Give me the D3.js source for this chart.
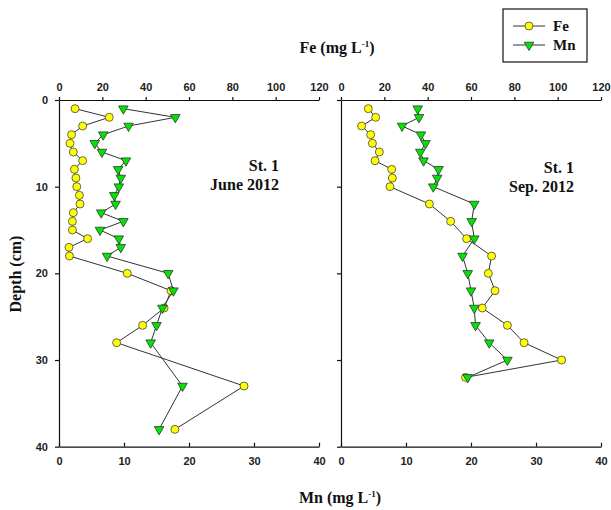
<!DOCTYPE html>
<html>
<head>
<meta charset="utf-8">
<script src="https://cdn.jsdelivr.net/npm/d3@7/dist/d3.min.js"></script>
<style>
  html, body { margin: 0; padding: 0; background: #fff; }
  svg { display: block; }
  .tick text { font-family: "Liberation Sans", Arial, sans-serif; font-weight: bold; font-size: 11px; fill: #222; }
  .domain, .tick line { stroke: #111; stroke-width: 1.2; }
  .title { font-family: "Liberation Serif", "Times New Roman", serif; font-weight: bold; fill: #111; }
</style>
</head>
<body>
<svg id="chart" width="611" height="510"></svg>
<script>
// Pore-water Fe and Mn profiles, Station 1
const depthJun = [1, 2, 3, 4, 5, 6, 7, 8, 9, 10, 11, 12, 13, 14, 15, 16, 17, 18, 20, 22, 24, 26, 28, 33, 38];
const feJun = [7.4, 23.2, 10.9, 5.8, 5.1, 6.6, 10.9, 7.1, 7.8, 8.2, 9.4, 9.7, 6.6, 6.2, 6.2, 13.2, 4.6, 4.8, 31.5, 51.7, 48.5, 38.6, 26.6, 85.4, 53.5];
const mnJun = [9.9, 17.9, 10.7, 6.8, 5.5, 6.6, 10.3, 9.1, 9.5, 9.2, 8.5, 8.7, 6.5, 9.9, 6.3, 9.2, 9.5, 7.4, 16.8, 17.6, 15.9, 15.0, 14.1, 19.0, 15.4];

const depthSep = [1, 2, 3, 4, 5, 6, 7, 8, 9, 10, 12, 14, 16, 18, 20, 22, 24, 26, 28, 30, 32];
const feSep = [12.6, 16.0, 9.5, 13.7, 14.5, 17.7, 15.7, 23.4, 23.7, 22.6, 40.8, 50.6, 58.0, 69.5, 68.0, 71.1, 65.2, 76.8, 84.5, 101.8, 57.5];
const mnSep = [11.8, 12.0, 9.4, 12.3, 13.0, 12.2, 12.7, 15.0, 14.8, 14.2, 20.5, 20.1, 20.5, 18.7, 19.5, 20.0, 20.5, 20.7, 22.8, 25.6, 19.5];

const feTicks = [0, 20, 40, 60, 80, 100, 120];
const mnTicks = [0, 10, 20, 30, 40];
const depthTicks = [0, 10, 20, 30, 40];

const panels = [
  { depth: depthJun, fe: feJun, mn: mnJun, station: "St. 1", date: "June 2012", x0: 59, x1: 319, noteX: 279, noteY: 171, labels: true },
  { depth: depthSep, fe: feSep, mn: mnSep, station: "St. 1", date: "Sep. 2012", x0: 341, x1: 601, noteX: 574, noteY: 173, labels: false }
];

const FE_COLOR = "#ffff00";
const MN_COLOR = "#00e600";
const LINE_COLOR = "#333";

const svg = d3.select("#chart");
const y = d3.scaleLinear().domain([0, 40]).range([100, 446.7]);

const triangle = d3.symbol().type(d3.symbolTriangle).size(40);

panels.forEach(p => {
  const xFe = d3.scaleLinear().domain([0, 120]).range([p.x0, p.x1]);
  const xMn = d3.scaleLinear().domain([0, 40]).range([p.x0, p.x1]);

  // top Fe axis
  svg.append("g").attr("transform", `translate(0,${y(0)})`)
    .call(d3.axisTop(xFe).tickValues(feTicks).tickSizeInner(3).tickSizeOuter(0).tickPadding(6));

  // bottom Mn axis (ticks point into the plot)
  svg.append("g").attr("transform", `translate(0,${y(40)})`)
    .call(d3.axisBottom(xMn).tickValues(mnTicks).tickSizeInner(-4).tickSizeOuter(0).tickPadding(11));

  // depth axis
  const yAxis = d3.axisLeft(y).tickValues(depthTicks).tickSizeInner(4).tickSizeOuter(0).tickPadding(7);
  if (!p.labels) yAxis.tickFormat("");
  svg.append("g").attr("transform", `translate(${p.x0},0)`).call(yAxis);

  const rowsFe = p.depth.map((d, i) => ({ d, v: p.fe[i] }));
  const rowsMn = p.depth.map((d, i) => ({ d, v: p.mn[i] }));

  const lineFe = d3.line().x(r => xFe(r.v)).y(r => y(r.d));
  const lineMn = d3.line().x(r => xMn(r.v)).y(r => y(r.d));

  svg.append("path").datum(rowsFe).attr("d", lineFe)
    .attr("fill", "none").attr("stroke", LINE_COLOR).attr("stroke-width", 1);
  svg.append("g").selectAll("circle").data(rowsFe).join("circle")
    .attr("cx", r => xFe(r.v)).attr("cy", r => y(r.d)).attr("r", 4)
    .attr("fill", FE_COLOR).attr("stroke", "#444").attr("stroke-width", 0.8);

  svg.append("path").datum(rowsMn).attr("d", lineMn)
    .attr("fill", "none").attr("stroke", LINE_COLOR).attr("stroke-width", 1);
  svg.append("g").selectAll("path").data(rowsMn).join("path")
    .attr("d", triangle)
    .attr("transform", r => `translate(${xMn(r.v)},${y(r.d)}) rotate(180)`)
    .attr("fill", MN_COLOR).attr("stroke", "#333").attr("stroke-width", 0.8);

  // station / date annotation
  svg.append("text").attr("class", "title").attr("x", p.noteX).attr("y", p.noteY)
    .attr("text-anchor", "end").attr("font-size", 16).text(p.station);
  svg.append("text").attr("class", "title").attr("x", p.noteX).attr("y", p.noteY + 19)
    .attr("text-anchor", "end").attr("font-size", 16).text(p.date);
});

// axis titles
function unitTitle(x, yb, name) {
  const t = svg.append("text").attr("class", "title").attr("x", x).attr("y", yb)
    .attr("text-anchor", "middle").attr("font-size", 16);
  t.append("tspan").text(name + " (mg L");
  t.append("tspan").attr("font-size", 9).attr("dy", -6).text("-1");
  t.append("tspan").attr("dy", 6).text(")");
}
unitTitle(337, 53, "Fe");
unitTitle(340, 503, "Mn");

svg.append("text").attr("class", "title").attr("font-size", 16)
  .attr("transform", "translate(21,274) rotate(-90)")
  .attr("text-anchor", "middle").text("Depth (cm)");

// legend
const legend = svg.append("g");
legend.append("rect").attr("x", 503).attr("y", 9).attr("width", 84).attr("height", 53)
  .attr("fill", "#fff").attr("stroke", "#111").attr("stroke-width", 1.2);
const legendItems = [
  { name: "Fe", color: FE_COLOR, shape: "circle" },
  { name: "Mn", color: MN_COLOR, shape: "triangle" }
];
legendItems.forEach((it, i) => {
  const ly = 26 + i * 19;
  legend.append("line").attr("x1", 513).attr("x2", 545).attr("y1", ly).attr("y2", ly)
    .attr("stroke", LINE_COLOR).attr("stroke-width", 1);
  if (it.shape === "circle") {
    legend.append("circle").attr("cx", 529).attr("cy", ly).attr("r", 4)
      .attr("fill", it.color).attr("stroke", "#444").attr("stroke-width", 0.8);
  } else {
    legend.append("path").attr("d", triangle)
      .attr("transform", `translate(529,${ly}) rotate(180)`)
      .attr("fill", it.color).attr("stroke", "#333").attr("stroke-width", 0.8);
  }
  legend.append("text").attr("class", "title").attr("x", 553).attr("y", ly + 5)
    .attr("font-size", 15).text(it.name);
});
</script>
</body>
</html>
